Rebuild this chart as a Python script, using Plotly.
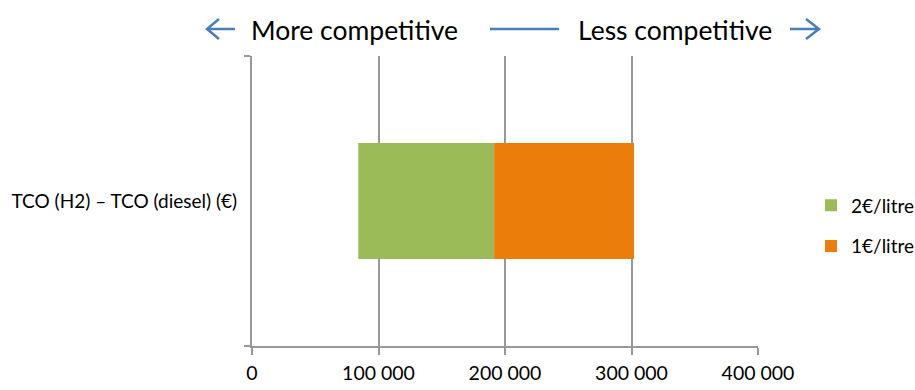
import plotly.graph_objects as go

# Data
category = ["TCO (H2) – TCO (diesel) (€)"]
series_names = ["2€/litre", "1€/litre"]
segment_start = [84000, 191400]
segment_end = [191400, 302000]
series_colors = ["#9BBB59", "#EB7D0A"]
x_tick_vals = [0, 100000, 200000, 300000, 400000]
x_tick_text = ["0", "100 000", "200 000", "300 000", "400 000"]
header_left = "More competitive"
header_right = "Less competitive"

FONT = "Lato"
GRID = "#989898"
BLUE = "#4A7EBB"

W, H = 915, 390
M_L, M_R, M_T, M_B = 252, 157, 56, 44
PW, PH = W - M_L - M_R, H - M_T - M_B


def px_x(p):
    return (p - M_L) / PW


def px_y(p):
    return 1 - (p - M_T) / PH


fig = go.Figure()
for name, s, e, c in zip(series_names, segment_start, segment_end, series_colors):
    fig.add_trace(go.Bar(
        y=category, x=[e - s], base=[s], orientation="h", name=name,
        marker=dict(color=c, line=dict(width=0)), legendgroup=name,
        hoverinfo="skip",
    ))

# Header: arrows and labels above the plot
shape_line = dict(color=BLUE, width=2.5)
shapes = [
    # left arrow
    dict(type="path", xref="paper", yref="paper", line=shape_line,
         path=f"M {px_x(235)} {px_y(29)} L {px_x(207)} {px_y(29)} "
              f"M {px_x(219)} {px_y(19)} L {px_x(207)} {px_y(29)} L {px_x(219)} {px_y(39)}"),
    # middle rule
    dict(type="line", xref="paper", yref="paper", line=shape_line,
         x0=px_x(490), x1=px_x(559), y0=px_y(29), y1=px_y(29)),
    # right arrow
    dict(type="path", xref="paper", yref="paper", line=shape_line,
         path=f"M {px_x(790)} {px_y(29)} L {px_x(819)} {px_y(29)} "
              f"M {px_x(806)} {px_y(19)} L {px_x(819)} {px_y(29)} L {px_x(806)} {px_y(39)}"),
]

annotations = [
    dict(text=header_left, xref="paper", yref="paper", x=px_x(354), y=px_y(30),
         xanchor="center", yanchor="middle", showarrow=False,
         font=dict(family=FONT, size=26.5, color="#000000")),
    dict(text=header_right, xref="paper", yref="paper", x=px_x(675), y=px_y(30),
         xanchor="center", yanchor="middle", showarrow=False,
         font=dict(family=FONT, size=26.5, color="#000000")),
]

fig.update_layout(
    width=W, height=H,
    margin=dict(l=M_L, r=M_R, t=M_T, b=M_B, pad=0, autoexpand=False),
    paper_bgcolor="white", plot_bgcolor="white",
    barmode="overlay", bargap=0.6,
    font=dict(family=FONT, size=19, color="#000000"),
    shapes=shapes, annotations=annotations,
    legend=dict(x=px_x(811), y=px_y(226), xanchor="left", yanchor="middle",
                traceorder="grouped", tracegroupgap=13,
                font=dict(family=FONT, size=19), bgcolor="rgba(0,0,0,0)"),
    xaxis=dict(range=[0, 400000], tickvals=x_tick_vals, ticktext=x_tick_text,
               showgrid=True, gridcolor=GRID, gridwidth=2, zeroline=False,
               showline=True, linecolor=GRID, linewidth=2, automargin=False,
               ticks="outside", ticklen=7, tickwidth=2, tickcolor=GRID,
               ticklabelstandoff=2, tickfont=dict(family=FONT, size=19.5)),
    yaxis=dict(range=[-0.5, 0.5], showgrid=False, zeroline=False,
               showline=True, linecolor=GRID, linewidth=2, automargin=False,
               ticks="outside", tickson="boundaries", ticklen=6, tickwidth=2,
               ticklabelstandoff=9,
               tickcolor=GRID, tickfont=dict(family=FONT, size=19)),
)

fig.write_html("out.html")
